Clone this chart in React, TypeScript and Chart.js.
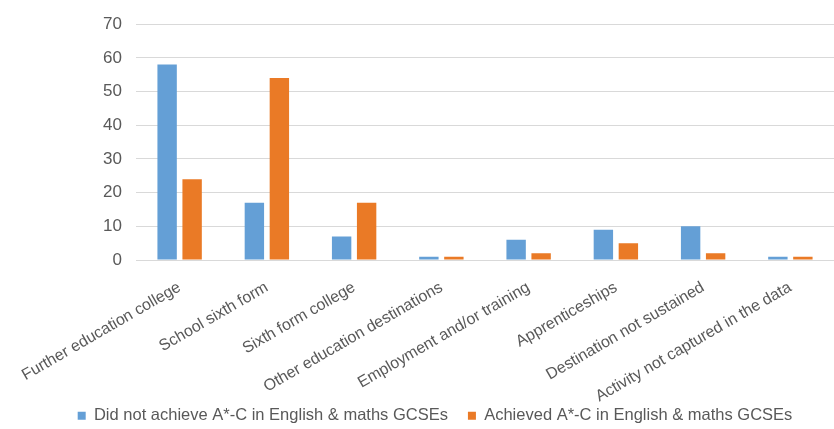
import React, { useEffect, useRef } from "react";
import { Chart, registerables } from "chart.js";

Chart.register(...registerables);

const categories = [
  "Further education college",
  "School sixth form",
  "Sixth form college",
  "Other education destinations",
  "Employment and/or training",
  "Apprenticeships",
  "Destination not sustained",
  "Activity not captured in the data",
];

const seriesNames = [
  "Did not achieve A*-C in English & maths GCSEs",
  "Achieved A*-C in English & maths GCSEs",
];

const didNotAchieve = [58, 17, 7, 1, 6, 9, 10, 1];
const achieved = [24, 54, 17, 1, 2, 5, 2, 1];

const yMin = 0;
const yMax = 70;
const yStep = 10;

const FONT = "'Liberation Sans', Arial, sans-serif";
const TEXT = "#595959";
const PAD_LEFT = 36;

const unclipXLabels = {
  id: "unclipXLabels",
  afterLayout(chart: any) {
    const x = chart.scales.x;
    if (x) x.bottom = chart.height;
  },
};

export default function App() {
  const ref = useRef<HTMLCanvasElement | null>(null);

  useEffect(() => {
    if (!ref.current) return;
    const chart = new Chart(ref.current, {
      type: "bar",
      data: {
        labels: categories,
        datasets: [
          {
            label: seriesNames[0],
            data: didNotAchieve,
            backgroundColor: "#649FD6",
            borderWidth: 0,
            categoryPercentage: 0.573,
            barPercentage: 0.776,
          },
          {
            label: seriesNames[1],
            data: achieved,
            backgroundColor: "#EA7A26",
            borderWidth: 0,
            categoryPercentage: 0.573,
            barPercentage: 0.776,
          },
        ],
      },
      plugins: [unclipXLabels],
      options: {
        animation: false,
        responsive: false,
        maintainAspectRatio: false,
        layout: { padding: { top: 21, left: PAD_LEFT, right: 0, bottom: -5 } },
        plugins: {
          tooltip: { enabled: false },
          legend: {
            position: "bottom",
            labels: {
              boxWidth: 8,
              boxHeight: 8,
              padding: 20,
              color: TEXT,
              font: { family: FONT, size: 16.5 },
            },
          },
        },
        scales: {
          x: {
            grid: { display: false, drawTicks: false },
            border: { display: true, color: "#D9D9D9", width: 1 },
            ticks: {
              autoSkip: false,
              minRotation: 30,
              maxRotation: 30,
              padding: 18,
              color: TEXT,
              font: { family: FONT, size: 16 },
            },
            afterFit: (scale: any) => {
              scale.height = 127.5;
              scale.paddingLeft = 0;
              scale.paddingRight = 0;
            },
          },
          y: {
            min: yMin,
            max: yMax,
            grid: { color: "#D9D9D9", drawTicks: false, lineWidth: 1 },
            border: { display: false },
            ticks: {
              stepSize: yStep,
              padding: 14,
              color: TEXT,
              font: { family: FONT, size: 17 },
            },
            afterFit: (scale: any) => {
              scale.width = 136 - PAD_LEFT;
            },
          },
        },
      },
    });
    return () => chart.destroy();
  }, []);

  return (
    <div style={{ position: "absolute", left: 0, top: 0, width: 834, height: 429, background: "#fff" }}>
      <canvas ref={ref} width={834} height={429} style={{ width: 834, height: 429, display: "block" }} />
    </div>
  );
}
